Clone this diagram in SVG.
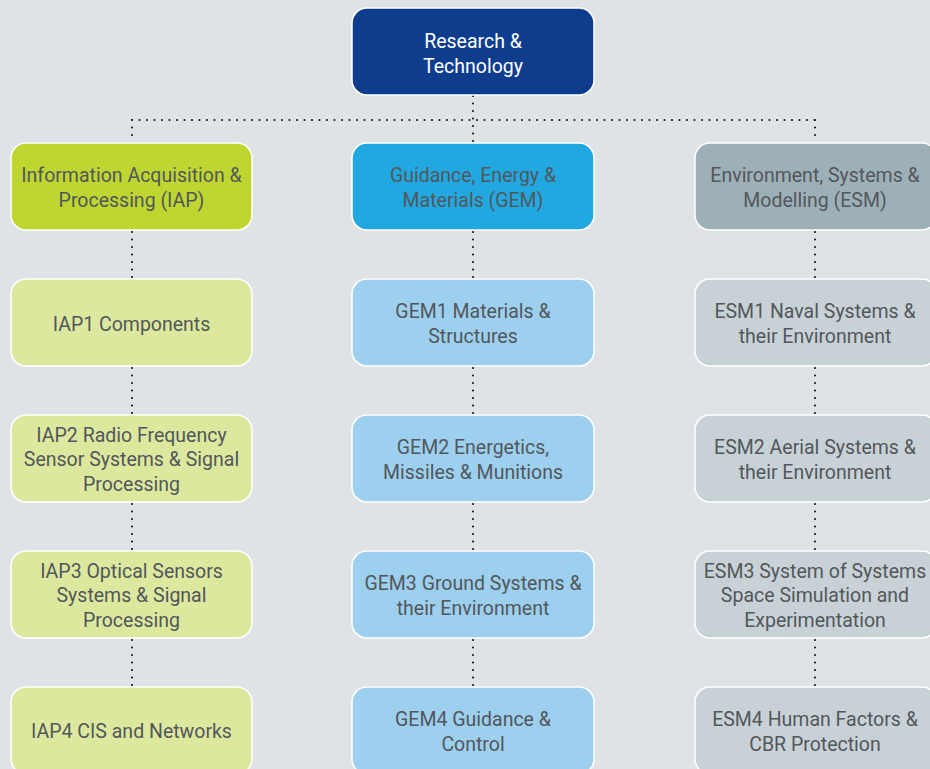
<svg xmlns="http://www.w3.org/2000/svg" width="930" height="769" viewBox="0 0 930 769">
  <style>
    .box { stroke: #ffffff; stroke-width: 1.5; }
    .lbl { font-family: Roboto, "Liberation Sans", sans-serif; font-size: 19.5px; fill: #52575b; text-anchor: middle; }
    .lbl-w { fill: #ffffff; }
    .dots { fill: none; stroke: #1e1e1e; stroke-width: 2.2; stroke-linecap: round; stroke-dasharray: 0 7.5; }
  </style>
  <rect width="930" height="769" fill="#dfe3e6"/>

  <!-- dotted connectors -->
  <g id="connectors">
    <path class="dots" d="M473 96 V142"/>
    <path class="dots" d="M132 120 H815"/>
    <path class="dots" d="M132 120 V142 M815 120 V142"/>
    <path class="dots" d="M132 232 V278 M132 368 V414 M132 504 V550 M132 640 V686"/>
    <path class="dots" d="M473 232 V278 M473 368 V414 M473 504 V550 M473 640 V686"/>
    <path class="dots" d="M815 232 V278 M815 368 V414 M815 504 V550 M815 640 V686"/>
  </g>

  <g id="rt">
    <rect class="box" x="352" y="8" width="242" height="87" rx="15" fill="#0e3d8d"/>
    <text class="lbl lbl-w" x="473" y="47.5">Research &amp;</text>
    <text class="lbl lbl-w" x="473" y="72.5">Technology</text>
  </g>

  <!-- Information Acquisition & Processing column -->
  <g id="iap">
    <rect class="box" x="11" y="143" width="241" height="87" rx="15" fill="#bfd631"/>
    <text class="lbl" x="131.5" y="181.5">Information Acquisition &amp;</text>
    <text class="lbl" x="131.5" y="206.5">Processing (IAP)</text>
  </g>
  <g id="iap1">
    <rect class="box" x="11" y="279" width="241" height="87" rx="15" fill="#dde89f"/>
    <text class="lbl" x="131.5" y="330.5">IAP1 Components</text>
  </g>
  <g id="iap2">
    <rect class="box" x="11" y="415" width="241" height="87" rx="15" fill="#dde89f"/>
    <text class="lbl" x="131.5" y="441.5">IAP2 Radio Frequency</text>
    <text class="lbl" x="131.5" y="466">Sensor Systems &amp; Signal</text>
    <text class="lbl" x="131.5" y="490.5">Processing</text>
  </g>
  <g id="iap3">
    <rect class="box" x="11" y="551" width="241" height="87" rx="15" fill="#dde89f"/>
    <text class="lbl" x="131.5" y="577.5">IAP3 Optical Sensors</text>
    <text class="lbl" x="131.5" y="602">Systems &amp; Signal</text>
    <text class="lbl" x="131.5" y="626.5">Processing</text>
  </g>
  <g id="iap4">
    <rect class="box" x="11" y="687" width="241" height="87" rx="15" fill="#dde89f"/>
    <text class="lbl" x="131.5" y="737.5">IAP4 CIS and Networks</text>
  </g>

  <!-- Guidance, Energy & Materials column -->
  <g id="gem">
    <rect class="box" x="352" y="143" width="242" height="87" rx="15" fill="#22a8e0"/>
    <text class="lbl" x="473" y="181.5">Guidance, Energy &amp;</text>
    <text class="lbl" x="473" y="206.5">Materials (GEM)</text>
  </g>
  <g id="gem1">
    <rect class="box" x="352" y="279" width="242" height="87" rx="15" fill="#9dcfee"/>
    <text class="lbl" x="473" y="317.5">GEM1 Materials &amp;</text>
    <text class="lbl" x="473" y="342.5">Structures</text>
  </g>
  <g id="gem2">
    <rect class="box" x="352" y="415" width="242" height="87" rx="15" fill="#9dcfee"/>
    <text class="lbl" x="473" y="453.5">GEM2 Energetics,</text>
    <text class="lbl" x="473" y="478.5">Missiles &amp; Munitions</text>
  </g>
  <g id="gem3">
    <rect class="box" x="352" y="551" width="242" height="87" rx="15" fill="#9dcfee"/>
    <text class="lbl" x="473" y="589.5">GEM3 Ground Systems &amp;</text>
    <text class="lbl" x="473" y="614.5">their Environment</text>
  </g>
  <g id="gem4">
    <rect class="box" x="352" y="687" width="242" height="87" rx="15" fill="#9dcfee"/>
    <text class="lbl" x="473" y="725.5">GEM4 Guidance &amp;</text>
    <text class="lbl" x="473" y="750.5">Control</text>
  </g>

  <!-- Environment, Systems & Modelling column -->
  <g id="esm">
    <rect class="box" x="695" y="143" width="242" height="87" rx="15" fill="#9eb0b7"/>
    <text class="lbl" x="815" y="181.5">Environment, Systems &amp;</text>
    <text class="lbl" x="815" y="206.5">Modelling (ESM)</text>
  </g>
  <g id="esm1">
    <rect class="box" x="695" y="279" width="242" height="87" rx="15" fill="#c8d2d6"/>
    <text class="lbl" x="815" y="317.5">ESM1 Naval Systems &amp;</text>
    <text class="lbl" x="815" y="342.5">their Environment</text>
  </g>
  <g id="esm2">
    <rect class="box" x="695" y="415" width="242" height="87" rx="15" fill="#c8d2d6"/>
    <text class="lbl" x="815" y="453.5">ESM2 Aerial Systems &amp;</text>
    <text class="lbl" x="815" y="478.5">their Environment</text>
  </g>
  <g id="esm3">
    <rect class="box" x="695" y="551" width="242" height="87" rx="15" fill="#c8d2d6"/>
    <text class="lbl" x="815" y="577.5">ESM3 System of Systems</text>
    <text class="lbl" x="815" y="602">Space Simulation and</text>
    <text class="lbl" x="815" y="626.5">Experimentation</text>
  </g>
  <g id="esm4">
    <rect class="box" x="695" y="687" width="242" height="87" rx="15" fill="#c8d2d6"/>
    <text class="lbl" x="815" y="725.5">ESM4 Human Factors &amp;</text>
    <text class="lbl" x="815" y="750.5">CBR Protection</text>
  </g>
</svg>
